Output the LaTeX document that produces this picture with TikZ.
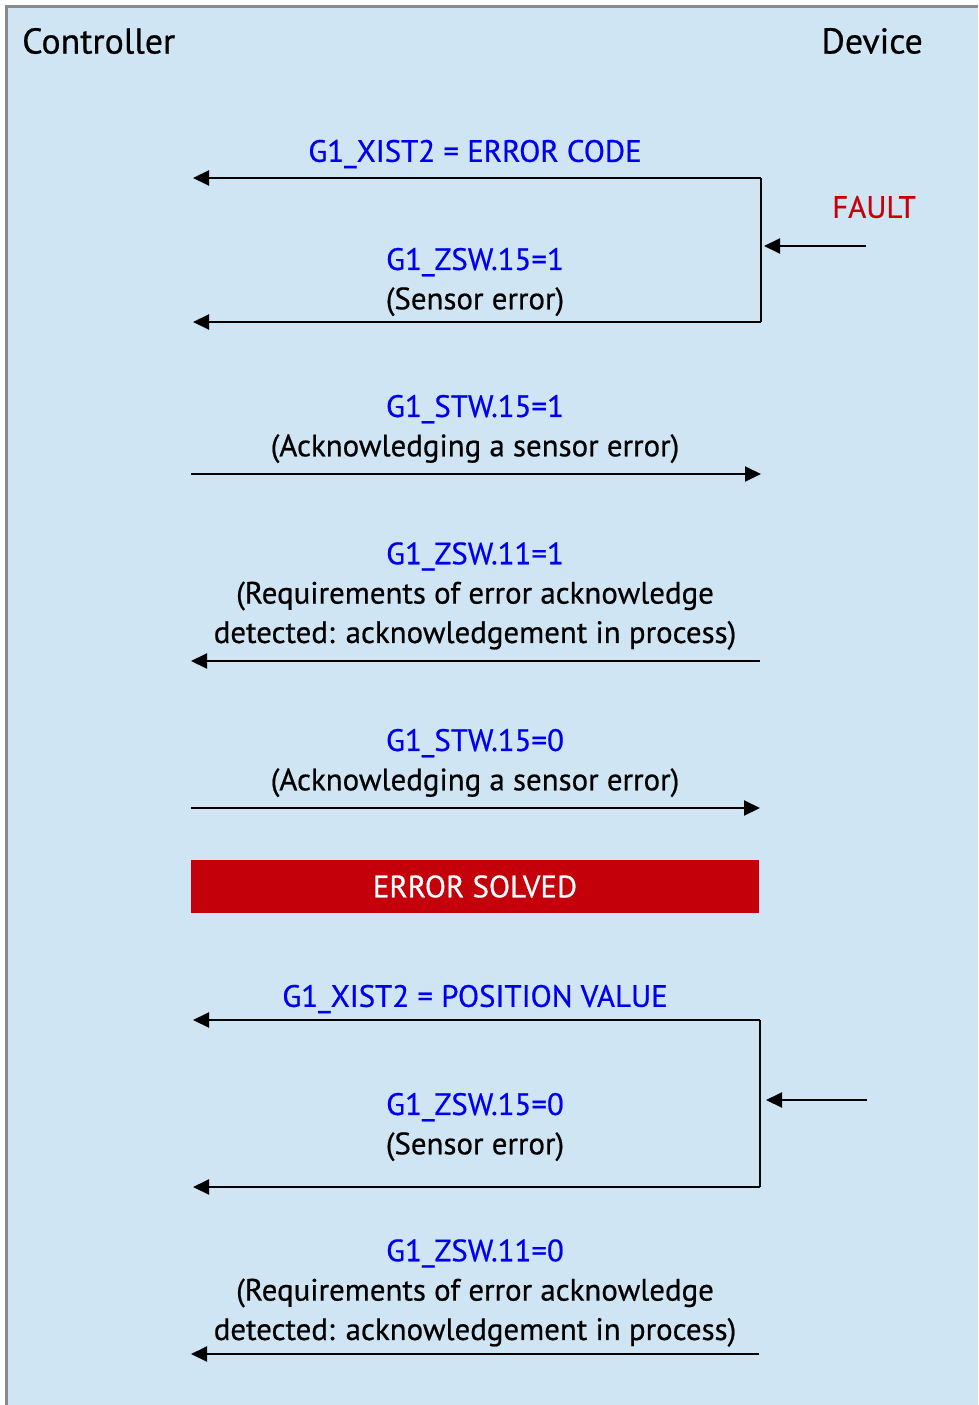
\documentclass[tikz,border=0pt]{standalone}
\usepackage{fontspec}
\setmainfont{PT Sans}[FakeBold=0.6]
\usetikzlibrary{arrows.meta}
\definecolor{bgblue}{HTML}{CFE5F3}
\definecolor{framegray}{HTML}{8A8A8A}
\definecolor{sigblue}{HTML}{0000F0}
\definecolor{faultred}{HTML}{C8000A}
\definecolor{boxred}{HTML}{C4000B}
\tikzset{
  lbl/.style={inner sep=0pt, align=center, font=\fontsize{31}{39.5}\selectfont},
  sig/.style={text=sigblue},
  hdr/.style={inner sep=0pt, font=\fontsize{36}{40}\selectfont},
  msg/.style={line width=2bp, -{Triangle[length=16bp,width=15bp]}},
  wire/.style={line width=2bp},
}
\begin{document}
\begin{tikzpicture}[x=1bp,y=-1bp]
\useasboundingbox (0,0) rectangle (978,1405);
\fill[bgblue] (6,6) rectangle (978,1405);
\draw[framegray,line width=3bp] (6.5,1405) -- (6.5,6.5) -- (978,6.5);

\node[hdr,anchor=west] (ctrl) at (22,41) {Controller};
\node[hdr,anchor=east] (dev) at (923,41) {Device};

% block 1
\node[lbl,sig] (xist1) at (475,154) {G1\_XIST2 = ERROR CODE};
\node[lbl] (zsw15a) at (475,282) {\textcolor{sigblue}{G1\_ZSW.15=1}\\(Sensor error)};
\node[lbl,text=faultred] (fault) at (874,207) {FAULT};
\coordinate (b1tr) at (761,178);
\coordinate (b1tl) at (193,178);
\coordinate (b1br) at (761,322);
\coordinate (b1bl) at (193,322);
\coordinate (f1s) at (866,246);
\coordinate (f1e) at (764,246);
\draw[wire] (b1br) -- (b1tr);
\draw[msg] (b1tr) -- (b1tl);
\draw[msg] (b1br) -- (b1bl);
\draw[msg] (f1s) -- (f1e);

% ack 1
\node[lbl] (stw1) at (475,429) {\textcolor{sigblue}{G1\_STW.15=1}\\(Acknowledging a sensor error)};
\coordinate (a1s) at (191,474);
\coordinate (a1e) at (761,474);
\draw[msg] (a1s) -- (a1e);

% zsw11 = 1
\node[lbl] (zsw11a) at (475,596) {\textcolor{sigblue}{G1\_ZSW.11=1}\\(Requirements of error acknowledge\\detected: acknowledgement in process)};
\coordinate (z1s) at (760,661);
\coordinate (z1e) at (191,661);
\draw[msg] (z1s) -- (z1e);

% ack 0
\node[lbl] (stw0) at (475,763) {\textcolor{sigblue}{G1\_STW.15=0}\\(Acknowledging a sensor error)};
\coordinate (a0s) at (191,808);
\coordinate (a0e) at (760,808);
\draw[msg] (a0s) -- (a0e);

% error solved
\node[fill=boxred, text=white, minimum width=568bp, minimum height=53bp, inner sep=0pt,
      font=\fontsize{31}{39.5}\selectfont] (solved) at (475,886.5) {ERROR SOLVED};

% block 2
\node[lbl,sig] (xist2) at (475,999) {G1\_XIST2 = POSITION VALUE};
\node[lbl] (zsw15b) at (475,1127) {\textcolor{sigblue}{G1\_ZSW.15=0}\\(Sensor error)};
\coordinate (b2tr) at (760,1020);
\coordinate (b2tl) at (193,1020);
\coordinate (b2br) at (760,1187);
\coordinate (b2bl) at (193,1187);
\coordinate (f2s) at (867,1100);
\coordinate (f2e) at (766,1100);
\draw[wire] (b2br) -- (b2tr);
\draw[msg] (b2tr) -- (b2tl);
\draw[msg] (b2br) -- (b2bl);
\draw[msg] (f2s) -- (f2e);

% zsw11 = 0
\node[lbl] (zsw11b) at (475,1293) {\textcolor{sigblue}{G1\_ZSW.11=0}\\(Requirements of error acknowledge\\detected: acknowledgement in process)};
\coordinate (z0s) at (759,1354);
\coordinate (z0e) at (191,1354);
\draw[msg] (z0s) -- (z0e);
\end{tikzpicture}
\end{document}
